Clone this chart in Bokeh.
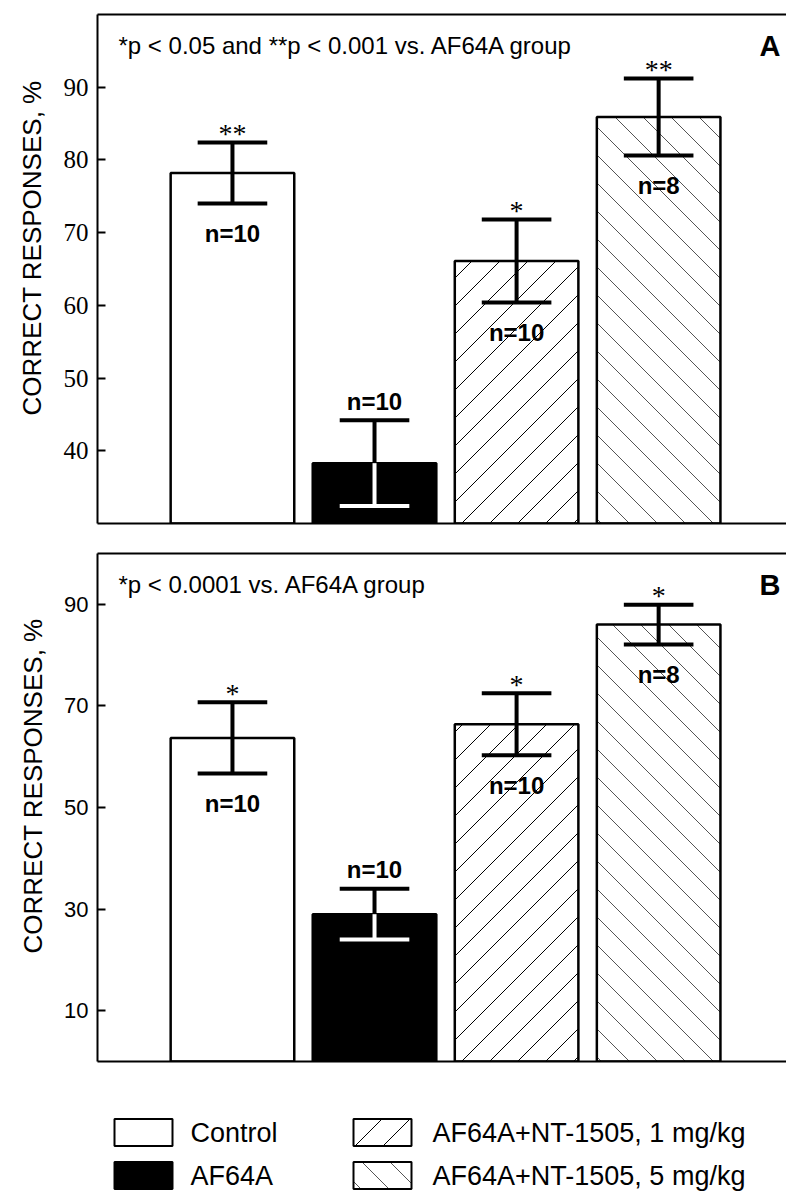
import math
from bokeh.plotting import figure
from bokeh.models import (ColumnDataSource, LinearAxis, Label, Range1d,
                          FixedTicker, Title)
from bokeh.layouts import column
from bokeh.embed import file_html
from bokeh.resources import INLINE
from bokeh.core.properties import value

# ---------------- data ----------------
groups = ["Control", "AF64A", "AF64A+NT-1505, 1 mg/kg", "AF64A+NT-1505, 5 mg/kg"]

a_means = [78.2, 38.3, 66.1, 85.9]
a_sem = [4.2, 5.9, 5.7, 5.3]
a_stars = ["**", "", "*", "**"]
a_n = ["n=10", "n=10", "n=10", "n=8"]
a_ticks = [40, 50, 60, 70, 80, 90]
a_note = "*p < 0.05  and  **p < 0.001 vs. AF64A group"

b_means = [63.7, 29.0, 66.4, 86.0]
b_sem = [7.0, 5.0, 6.1, 3.9]
b_stars = ["*", "", "*", "*"]
b_n = ["n=10", "n=10", "n=10", "n=8"]
b_ticks = [10, 30, 50, 70, 90]
b_note = "*p < 0.0001 vs. AF64A group"

y_title = "CORRECT  RESPONSES, %"

# ---------------- styles ----------------
fills = ["white", "black", "white", "white"]
hatch_kind = ["", "", "/", "\\"]
hatch_cols = ["black", "black", "black", "#555555"]
inner_cols = ["black", "white", "black", "black"]
n_side = ["below", "above", "below", "below"]

SANS = "Liberation Sans"
SERIF = "Liberation Serif"
W = 786
LEFT = 97
FRAME_W = W - LEFT
STEP = 28       # hatch spacing, px
BAR_W = 0.87
X_RANGE = (-0.95, 3.9)


def hatch_lines(xl, xr, yb, yt, kind, ox, oy, kx, ky, step=STEP):
    """45-degree (in screen space) hatch lines clipped to a rectangle."""
    Xl, Xr = (xl - ox) * kx, (xr - ox) * kx
    Yb, Yt = (yb - oy) * ky, (yt - oy) * ky
    out = []
    if kind == "/":
        cmin, cmax = Xl - Yt, Xr - Yb
    else:
        cmin, cmax = Xl + Yb, Xr + Yt
    k = math.ceil(cmin / step)
    while k * step <= cmax:
        c = k * step
        if kind == "/":
            xs, xe = max(Xl, c + Yb), min(Xr, c + Yt)
            if xe - xs > 0.5:
                out.append((xs, xs - c, xe, xe - c))
        else:
            xs, xe = max(Xl, c - Yt), min(Xr, c - Yb)
            if xe - xs > 0.5:
                out.append((xs, c - xs, xe, c - xe))
        k += 1
    return [(ox + a / kx, oy + b / ky, ox + c2 / kx, oy + d / ky)
            for a, b, c2, d in out]


def add_hatch(p, lefts, rights, bottoms, tops, ox, oy, kx, ky):
    seg = dict(x0=[], y0=[], x1=[], y1=[], c=[])
    for xl, xr, yb, yt, kind, col in zip(lefts, rights, bottoms, tops,
                                         hatch_kind, hatch_cols):
        if not kind:
            continue
        for a, b, c2, d in hatch_lines(xl, xr, yb, yt, kind, ox, oy, kx, ky):
            seg["x0"].append(a); seg["y0"].append(b)
            seg["x1"].append(c2); seg["y1"].append(d)
            seg["c"].append(col)
    p.segment(x0="x0", y0="y0", x1="x1", y1="y1", line_color="c",
              line_width=1, source=ColumnDataSource(seg))


def panel(means, sems, stars, ns, ticks, y0, y1, tick_font, tick_size,
          letter, note, height, top, bottom):
    idx = list(range(len(groups)))
    lo = [m - s for m, s in zip(means, sems)]
    hi = [m + s for m, s in zip(means, sems)]
    cap = 0.245
    ny = [l if side == "below" else h for l, h, side in zip(lo, hi, n_side)]
    noff = [30 if side == "below" else -19 for side in n_side]
    src = ColumnDataSource(dict(
        x=idx, top=means, lo=lo, hi=hi,
        cx0=[i - cap for i in idx], cx1=[i + cap for i in idx],
        fill=fills, inner=inner_cols,
        stars=stars, n=ns, ny=ny, noff=noff,
    ))
    p = figure(width=W, height=height, x_range=Range1d(*X_RANGE),
               y_range=Range1d(y0, y1), output_backend="svg",
               toolbar_location=None, min_border_left=LEFT,
               min_border_right=0, min_border_top=top,
               min_border_bottom=bottom)
    p.outline_line_color = None
    p.grid.visible = False
    p.background_fill_color = "white"

    # bars: fill, hatch, then outline on top
    p.vbar(x="x", top="top", bottom=y0, width=BAR_W, source=src,
           fill_color="fill", line_color=None)
    fh = height - top - bottom
    kx = FRAME_W / (X_RANGE[1] - X_RANGE[0])
    ky = fh / (y1 - y0)
    add_hatch(p, [i - BAR_W / 2 for i in idx], [i + BAR_W / 2 for i in idx],
              [y0] * len(idx), means, X_RANGE[0], y0, kx, ky)
    p.vbar(x="x", top="top", bottom=y0, width=BAR_W, source=src,
           fill_color=None, line_color="black", line_width=2.5)

    # error bars
    p.segment(x0="x", y0="top", x1="x", y1="hi", source=src,
              line_color="black", line_width=4)
    p.segment(x0="x", y0="lo", x1="x", y1="top", source=src,
              line_color="inner", line_width=4)
    p.segment(x0="cx0", y0="hi", x1="cx1", y1="hi", source=src,
              line_color="black", line_width=4)
    p.segment(x0="cx0", y0="lo", x1="cx1", y1="lo", source=src,
              line_color="inner", line_width=4)
    # significance stars
    p.text(x="x", y="hi", text="stars", source=src, text_align="center",
           text_baseline="middle", y_offset=-9,
           text_font=value(SERIF), text_font_size="28px",
           text_color="black")
    # n labels
    p.text(x="x", y="ny", text="n", source=src, text_align="center",
           text_baseline="middle", y_offset="noff",
           text_font=value(SANS), text_font_style="bold",
           text_font_size="24px", text_color="black")

    # axes
    ya = p.yaxis[0]
    ya.ticker = FixedTicker(ticks=ticks)
    ya.major_tick_in = 8
    ya.major_tick_out = 0
    ya.minor_tick_line_color = None
    ya.axis_line_width = 2
    ya.major_tick_line_width = 2
    ya.major_label_text_font = tick_font
    ya.major_label_text_font_size = tick_size
    ya.major_label_text_color = "black"
    ya.major_label_standoff = 9

    ax = p.xaxis[0]
    ax.ticker = FixedTicker(ticks=[])
    ax.major_tick_in = 0
    ax.major_tick_out = 0
    ax.minor_tick_line_color = None
    ax.major_label_text_font_size = "0px"
    ax.major_label_standoff = 0
    ax.axis_line_width = 2
    above = LinearAxis(ticker=FixedTicker(ticks=[]), major_tick_in=0,
                       major_tick_out=0, minor_tick_line_color=None,
                       major_label_text_font_size="0px",
                       major_label_standoff=0, axis_line_width=2)
    p.add_layout(above, "above")

    p.add_layout(Title(text=y_title, align="left", offset=108,
                       text_font=SANS, text_font_size="26px",
                       text_font_style="normal", text_color="black",
                       standoff=28), "left")

    p.add_layout(Label(x=21, y=fh - 31, x_units="screen", y_units="screen",
                       text=note, text_font=SANS, text_font_size="24px",
                       text_baseline="middle", text_color="black"))
    p.add_layout(Label(x=FRAME_W - 6, y=fh - 31, x_units="screen",
                       y_units="screen", text=letter, text_font=SANS,
                       text_font_style="bold", text_font_size="29px",
                       text_align="right", text_baseline="middle",
                       text_color="black"))
    return p


pa = panel(a_means, a_sem, a_stars, a_n, a_ticks, 30, 100, SERIF,
           "25px", "A", a_note, 539, 14, 16)
pb = panel(b_means, b_sem, b_stars, b_n, b_ticks, 0, 100, SANS, "22px",
           "B", b_note, 528, 14, 6)

# ---------------- legend ----------------
LH = 125
lg = figure(width=W, height=LH, x_range=Range1d(LEFT, W),
            y_range=Range1d(0, LH), output_backend="svg",
            toolbar_location=None, min_border=0, min_border_left=LEFT,
            x_axis_location=None, y_axis_location=None)
lg.outline_line_color = None
lg.grid.visible = False
box_x = [143, 143, 382, 382]
box_y = [60, 17, 60, 17]
txt_x = [190, 190, 432, 432]
BOX_W, BOX_H = 58, 27
lsrc = ColumnDataSource(dict(bx=box_x, by=box_y, tx=txt_x, label=groups,
                             fill=fills))
lg.rect(x="bx", y="by", width=BOX_W, height=BOX_H, source=lsrc,
        fill_color="fill", line_color=None)
add_hatch(lg, [x - BOX_W / 2 for x in box_x], [x + BOX_W / 2 for x in box_x],
          [y - BOX_H / 2 for y in box_y], [y + BOX_H / 2 for y in box_y],
          0, 0, 1.0, 1.0)
lg.rect(x="bx", y="by", width=BOX_W, height=BOX_H, source=lsrc,
        fill_color=None, line_color="black", line_width=2)
lg.text(x="tx", y="by", text="label", source=lsrc, text_baseline="middle",
        text_font=value(SANS), text_font_size="27px", text_color="black")

layout = column(pa, pb, lg, spacing=0)
open("out.html", "w").write(file_html(layout, INLINE))
